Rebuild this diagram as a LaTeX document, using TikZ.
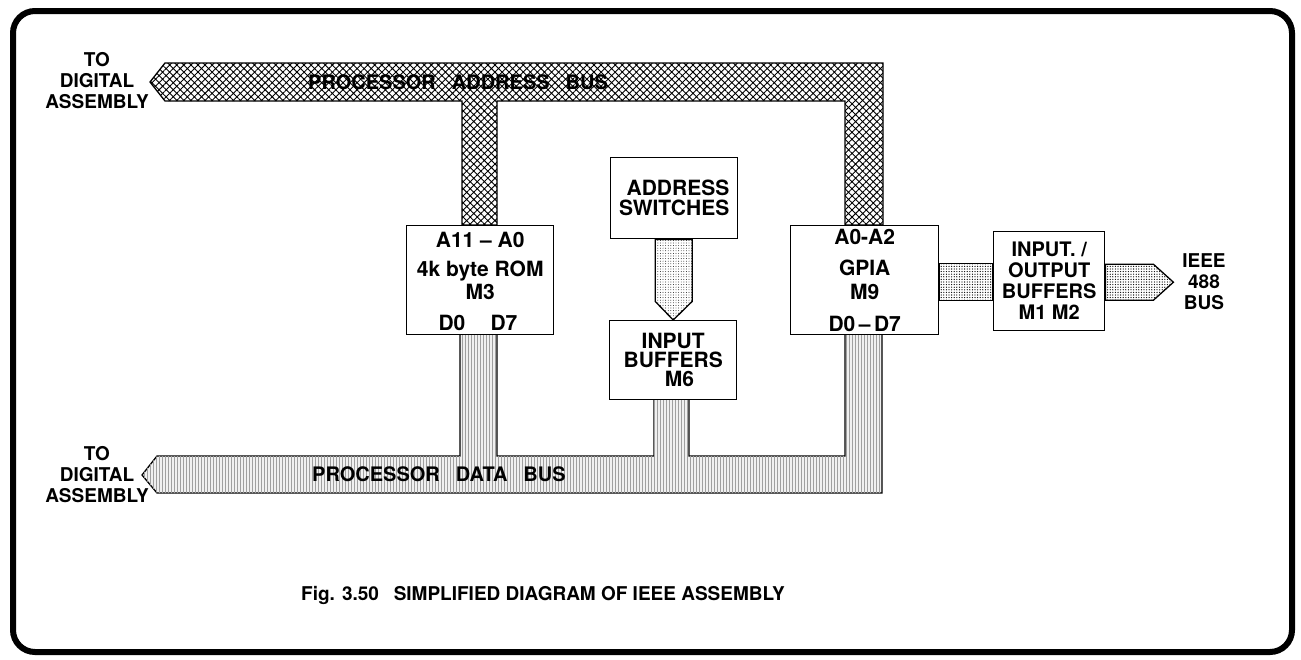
\documentclass[tikz,border=0pt]{standalone}
\usepackage{fontspec}
\setmainfont{TeX Gyre Heros}
\usepackage{tikz}
\usetikzlibrary{calc,patterns.meta}

\tikzset{
  box/.style={draw,line width=1.4pt,fill=white,inner sep=0pt,anchor=north west,
    align=center,font=\bfseries\fontsize{21}{23}\selectfont},
  pinlbl/.style={inner sep=0pt,font=\bfseries\fontsize{21}{22}\selectfont},
  sidelbl/.style={inner sep=0pt,align=center,font=\bfseries\fontsize{19}{21}\selectfont},
  buslbl/.style={inner sep=0pt,anchor=west,font=\bfseries\fontsize{20}{22}\selectfont},
  addrbus/.style={draw,line width=1.3pt,fill=white,
    postaction={pattern={Hatch[angle=45,distance=5pt,line width=0.9pt]},pattern color=black}},
  databus/.style={draw,line width=1.3pt,fill=gray!12,
    postaction={pattern={Lines[angle=90,distance=3pt,line width=0.5pt]},pattern color=gray!75}},
  iobus/.style={draw,line width=1.3pt,fill=white,
    postaction={pattern={Dots[distance=2.6pt,radius=0.65pt]},pattern color=black}},
  swbus/.style={draw,line width=1.3pt,fill=white,
    postaction={pattern={Dots[distance=2.6pt,radius=0.45pt]},pattern color=black}}
}

\begin{document}
\begin{tikzpicture}[x=1pt,y=-1pt]
    \useasboundingbox (0,0) rectangle (1301,659);
    % frame
    \draw [line width=6pt,rounded corners=22pt] (13,11) rectangle (1292,652);
    % processor address bus
    \draw [addrbus] (150,82) -- (165,63) -- (883,63) -- (883,225) -- (845,225) -- (845,101)
        -- (497,101) -- (497,225) -- (462,225) -- (462,101) -- (165,101) -- cycle;
    \node [buslbl] (addrlbl) at (308,82) {PROCESSOR\hspace{0.8em}ADDRESS\hspace{0.8em}BUS};
    % processor data bus
    \draw [databus] (142,475) -- (157,456) -- (460,456) -- (460,334) -- (497,334) -- (497,456)
        -- (654,456) -- (654,399) -- (689,399) -- (689,456) -- (845,456) -- (845,334)
        -- (882,334) -- (882,493) -- (157,493) -- cycle;
    \node [buslbl] (datalbl) at (312,474) {PROCESSOR\hspace{0.8em}DATA\hspace{0.8em}BUS};
    % boxes
    \node [box,minimum width=147pt,minimum height=109pt] (rom) at (406,225) {4k byte ROM\\M3};
    \node [pinlbl,below=7pt] (romaddr) at (rom.north) {A11 -- A0};
    \node [pinlbl] (romd0) at (452,323) {D0};
    \node [pinlbl] (romd7) at (504,323) {D7};
    \node [box,minimum width=127pt,minimum height=81pt,align=right,
        font=\bfseries\fontsize{21}{20}\selectfont] (sw) at (610,157) {ADDRESS\\SWITCHES};
    \node [box,minimum width=127pt,minimum height=79pt,
        font=\bfseries\fontsize{21}{19}\selectfont] (inbuf) at (609,320) {INPUT\\BUFFERS\\\hspace{0.6em}M6};
    \node [box,minimum width=148pt,minimum height=109pt,
        font=\bfseries\fontsize{21}{24}\selectfont] (gpia) at (790,225) {GPIA\\M9};
    \node [pinlbl,below=4pt] (gpiaaddr) at (gpia.north) {A0-A2};
    \node [pinlbl,above=4pt] (gpiadata) at (gpia.south) {D0\,--\,D7};
    \node [box,minimum width=111pt,minimum height=99pt,
        font=\bfseries\fontsize{20}{21}\selectfont] (iobuf) at (993,231) {INPUT. /\\OUTPUT\\BUFFERS\\M1 M2};
    % switches to input buffers
    \draw [swbus] ($(sw.south)+(-19,0)$) -- ++(0,62) -- (inbuf.north) -- ($(sw.south)+(18,62)$)
        -- ($(sw.south)+(18,0)$) -- cycle;
    % GPIA to IEEE 488 bus
    \draw [iobus] ($(gpia.east)+(0,-17)$) rectangle ($(iobuf.west)+(0,19)$);
    \draw [iobus] ($(iobuf.east)+(0,-17)$) -- ++(48,0) -- ++(20,18) -- ++(-20,18) -- ++(-48,0) -- cycle;
    % labels
    \node [sidelbl] (toaddr) at (97,81) {TO\\DIGITAL\\ASSEMBLY};
    \node [sidelbl] (todata) at (97,475) {TO\\DIGITAL\\ASSEMBLY};
    \node [sidelbl] (ieee) at (1204,282) {IEEE\\488\\BUS};
    \node [inner sep=0pt,font=\bfseries\fontsize{19}{21}\selectfont] (caption) at (543,595)
        {Fig. 3.50\hspace{0.5em} SIMPLIFIED DIAGRAM OF IEEE ASSEMBLY};
\end{tikzpicture}
\end{document}
